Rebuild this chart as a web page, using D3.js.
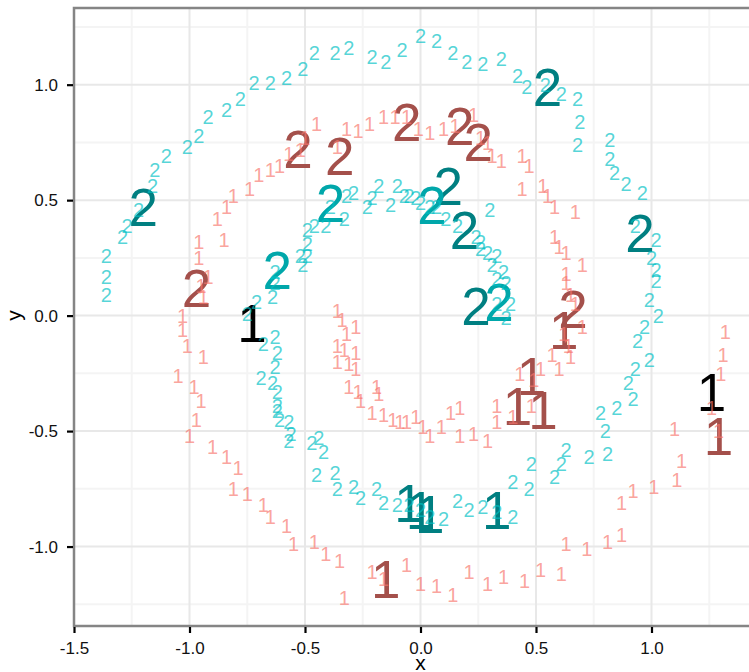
<!DOCTYPE html>
<html>
<head>
<meta charset="utf-8">
<script src="https://cdn.jsdelivr.net/npm/d3@7"></script>
<style>
  html, body { margin: 0; padding: 0; background: #ffffff; }
  svg { display: block; }
  text { font-family: "Liberation Sans", Arial, Helvetica, sans-serif; }
</style>
</head>
<body>
<svg id="chart" width="749" height="672"></svg>
<script>
// Points of the first spiral (class "1")
const spiralOne = [
  [-0.81,0.52],[-0.74,0.55],[-0.84,0.47],[-0.88,0.42],[-0.85,0.33],[-0.96,0.32],[-0.96,0.25],
  [-0.92,0.17],[-0.95,0.13],[-0.94,0.08],[-1.03,0.00],[-1.03,-0.06],[-1.01,-0.13],[-0.94,-0.18],
  [-1.05,-0.26],[-0.98,-0.31],[-0.95,-0.37],[-0.97,-0.45],[-1.00,-0.52],[-0.90,-0.57],[-0.84,-0.61],
  [-0.79,-0.66],[-0.81,-0.75],[-0.75,-0.77],[-0.68,-0.82],[-0.65,-0.87],[-0.58,-0.91],[-0.55,-0.99],
  [-0.46,-0.98],[-0.41,-1.03],[-0.35,-1.06],[-0.33,-1.22],[-0.21,-1.11],[-0.16,-1.14],[-0.06,-1.08],
  [0.00,-1.16],[0.07,-1.17],[0.14,-1.21],[0.21,-1.11],[0.29,-1.16],[0.36,-1.13],[0.45,-1.15],
  [0.52,-1.10],[0.61,-1.12],[0.63,-0.99],[0.72,-1.01],[0.81,-0.98],[0.87,-0.95],[0.87,-0.81],
  [0.92,-0.76],[1.01,-0.74],[1.11,-0.71],[1.13,-0.63],[1.10,-0.49],[1.29,-0.50],[1.26,-0.40],
  [1.30,-0.25],[1.31,-0.17],[1.32,-0.07],
  [-0.70,0.61],[-0.65,0.63],[-0.61,0.65],[-0.57,0.70],[-0.52,0.72],[-0.50,0.77],[-0.45,0.83],
  [-0.36,0.73],[-0.32,0.81],[-0.27,0.80],[-0.22,0.83],[-0.16,0.86],[-0.11,0.86],[-0.06,0.86],
  [-0.01,0.81],[0.04,0.79],[0.10,0.81],[0.15,0.82],[0.23,0.87],[0.26,0.77],[0.29,0.75],
  [0.31,0.69],[0.35,0.67],[0.44,0.69],[0.47,0.65],[0.44,0.55],[0.53,0.56],[0.55,0.52],
  [0.58,0.47],[0.67,0.45],[0.58,0.34],[0.60,0.30],[0.63,0.27],[0.70,0.22],[0.63,0.18],
  [0.63,0.14],[0.65,0.09],[0.67,0.05],[0.70,-0.05],[0.62,-0.08],[0.64,-0.13],[0.65,-0.18],
  [0.57,-0.17],[0.60,-0.23],[0.52,-0.23],[0.43,-0.25],[0.49,-0.28],[0.40,-0.44],[0.48,-0.39],
  [0.33,-0.39],[0.33,-0.46],[0.29,-0.54],[0.23,-0.51],[0.17,-0.52],[0.17,-0.40],[0.13,-0.42],
  [0.09,-0.48],[0.04,-0.52],[0.01,-0.48],[-0.02,-0.44],[-0.06,-0.46],[-0.09,-0.46],[-0.12,-0.45],
  [-0.16,-0.43],[-0.18,-0.34],[-0.21,-0.42],[-0.19,-0.31],[-0.26,-0.37],[-0.27,-0.33],[-0.31,-0.31],
  [-0.28,-0.23],[-0.31,-0.21],[-0.36,-0.20],[-0.28,-0.16],[-0.33,-0.15],[-0.36,-0.13],[-0.32,-0.08],
  [-0.28,-0.05],[-0.34,-0.02],[-0.36,0.02]
];

// Points of the second spiral (class "2")
const spiralTwo = [
  [-1.36,0.09],[-1.36,0.17],[-1.36,0.26],[-1.29,0.34],[-1.27,0.39],[-1.22,0.46],[-1.16,0.56],
  [-1.15,0.63],[-1.10,0.69],[-1.01,0.73],[-0.96,0.78],[-0.92,0.86],[-0.84,0.89],[-0.78,0.94],
  [-0.72,1.01],[-0.65,1.01],[-0.58,1.03],[-0.51,1.07],[-0.46,1.14],[-0.37,1.14],[-0.31,1.16],
  [-0.21,1.12],[-0.15,1.10],[-0.08,1.15],[0.00,1.21],[0.07,1.19],[0.14,1.14],[0.20,1.10],
  [0.27,1.09],[0.35,1.11],[0.42,1.04],[0.46,0.99],[0.54,1.00],[0.61,0.96],[0.68,0.94],
  [0.69,0.84],[0.68,0.74],[0.82,0.76],[0.82,0.68],[0.84,0.62],[0.89,0.57],[0.96,0.53],
  [0.93,0.39],[1.02,0.33],[1.00,0.25],[1.02,0.20],[1.02,0.15],[0.99,0.07],[1.03,0.00],
  [0.97,-0.05],[0.94,-0.11],[0.99,-0.19],[0.93,-0.23],[0.90,-0.29],[0.92,-0.36],[0.85,-0.40],
  [0.78,-0.42],[0.80,-0.50],[0.63,-0.58],[0.73,-0.61],[0.81,-0.60],[0.61,-0.64],[0.58,-0.70],
  [0.48,-0.64],[0.47,-0.75],[0.40,-0.72],[0.40,-0.87],[0.33,-0.85],[0.27,-0.83],[0.21,-0.84],
  [0.16,-0.80],[0.10,-0.88],[0.04,-0.87],[0.00,-0.84],[-0.05,-0.82],[-0.10,-0.82],[-0.16,-0.81],
  [-0.19,-0.75],[-0.26,-0.79],[-0.29,-0.74],[-0.36,-0.75],[-0.37,-0.68],[-0.45,-0.69],[-0.42,-0.59],
  [-0.47,-0.55],[-0.57,-0.54],[-0.44,-0.53],[-0.56,-0.51],[-0.57,-0.46],[-0.61,-0.45],[-0.62,-0.41],
  [-0.62,-0.39],[-0.62,-0.33],[-0.64,-0.29],[-0.69,-0.27],[-0.63,-0.22],[-0.62,-0.16],[-0.68,-0.12],
  [-0.63,-0.09],[-0.75,0.01],[-0.71,0.06],[-0.64,0.08],[-0.63,0.14],[-0.63,0.19],[-0.51,0.22],
  [-0.49,0.26],[-0.52,0.26],[-0.49,0.31],[-0.49,0.37],[-0.46,0.39],[-0.41,0.39],[-0.39,0.47],
  [-0.33,0.42],[-0.32,0.52],[-0.29,0.53],[-0.23,0.47],[-0.21,0.51],[-0.18,0.56],[-0.13,0.48],
  [-0.10,0.56],[-0.07,0.52],[-0.05,0.52],[-0.02,0.51],[0.00,0.49],[0.04,0.47],[0.07,0.47],
  [0.11,0.42],[0.16,0.39],[0.24,0.34],[0.26,0.32],[0.26,0.29],[0.29,0.27],[0.33,0.26],
  [0.31,0.22],[0.36,0.19],[0.33,0.16],[0.37,0.14],[0.30,0.46],[0.33,0.05],[0.39,0.05],[0.37,-0.01]
];

// Emphasised points: position, printed label and the group that sets their colour
const highlightX     = [-1.20, 0.55, 0.95, 0.12, 0.19, 0.24, -0.39, -0.62, 0.05, 0.34,
                        -0.05, 0.00, 0.04, 0.33,
                        -0.53, -0.35, -0.06, 0.17, 0.25, -0.97, 0.66,
                        0.62, 0.48, 0.42, 0.53, -0.15, 1.29,
                        -0.73, 1.26];
const highlightY     = [0.47, 0.99, 0.36, 0.56, 0.37, 0.04, 0.49, 0.20, 0.48, 0.06,
                        -0.81, -0.84, -0.86, -0.84,
                        0.72, 0.69, 0.84, 0.82, 0.75, 0.12, 0.03,
                        -0.06, -0.26, -0.39, -0.41, -1.14, -0.52,
                        -0.03, -0.33];
const highlightLabel = ["2","2","2","2","2","2","2","2","2","2",
                        "1","1","1","1",
                        "2","2","2","2","2","2","2",
                        "1","1","1","1","1","1",
                        "1","1"];
const highlightGroup = ["outer2","outer2","outer2","outer2","outer2","outer2","inner2","inner2","inner2","inner2",
                        "outer2","outer2","outer2","outer2",
                        "outer1","outer1","outer1","outer1","outer1","outer1","outer1",
                        "outer1","outer1","outer1","outer1","outer1","outer1",
                        "none","none"];

const xTicks = [-1.5, -1.0, -0.5, 0.0, 0.5, 1.0];
const yTicks = [-1.0, -0.5, 0.0, 0.5, 1.0];
const xMinor = [-1.25, -0.75, -0.25, 0.25, 0.75, 1.25];
const yMinor = [-1.25, -0.75, -0.25, 0.25, 0.75, 1.25];

const svg = d3.select("#chart");
const panel = { left: 74, top: 8, bottom: 626 };

const x = d3.scaleLinear().domain([-1.5, 1.45]).range([panel.left, panel.left + 2.95 * 231]);
const y = d3.scaleLinear().domain([-1.344, 1.332]).range([panel.bottom, panel.top]);
const right = x.range()[1];

const classColour = d3.scaleOrdinal().domain(["1", "2"]).range(["#F8766D", "#00BFC4"]);
const groupColour = d3.scaleOrdinal()
  .domain(["outer1", "outer2", "inner2", "none"])
  .range(["#A4504B", "#007F81", "#00A7AA", "#000000"]);

// grid
const grid = svg.append("g");
grid.selectAll("line.minor-x").data(xMinor).join("line")
  .attr("x1", d => x(d)).attr("x2", d => x(d))
  .attr("y1", panel.top).attr("y2", panel.bottom)
  .attr("stroke", "#f4f4f4").attr("stroke-width", 2);
grid.selectAll("line.minor-y").data(yMinor).join("line")
  .attr("y1", d => y(d)).attr("y2", d => y(d))
  .attr("x1", panel.left).attr("x2", right)
  .attr("stroke", "#f4f4f4").attr("stroke-width", 2);
grid.selectAll("line.major-x").data(xTicks).join("line")
  .attr("x1", d => x(d)).attr("x2", d => x(d))
  .attr("y1", panel.top).attr("y2", panel.bottom)
  .attr("stroke", "#e8e8e8").attr("stroke-width", 2);
grid.selectAll("line.major-y").data(yTicks).join("line")
  .attr("y1", d => y(d)).attr("y2", d => y(d))
  .attr("x1", panel.left).attr("x2", right)
  .attr("stroke", "#e8e8e8").attr("stroke-width", 2);

// emphasised labels underneath
const highlights = highlightX.map((v, i) => ({
  x: v, y: highlightY[i], label: highlightLabel[i], group: highlightGroup[i]
}));
svg.append("g").selectAll("text").data(highlights).join("text")
  .attr("x", d => x(d.x)).attr("y", d => y(d.y))
  .attr("dy", "0.36em")
  .attr("text-anchor", "middle")
  .attr("font-size", 53)
  .attr("fill", d => groupColour(d.group))
  .text(d => d.label);

// spiral labels
function drawSpiral(points, cls) {
  svg.append("g").selectAll("text").data(points).join("text")
    .attr("x", d => x(d[0])).attr("y", d => y(d[1]))
    .attr("dy", "0.36em")
    .attr("text-anchor", "middle")
    .attr("font-size", 20)
    .attr("fill", classColour(cls))
    .attr("fill-opacity", 0.68)
    .text(cls);
}
drawSpiral(spiralOne, "1");
drawSpiral(spiralTwo, "2");

// panel border (left, top, bottom visible)
svg.append("rect")
  .attr("x", panel.left).attr("y", panel.top)
  .attr("width", right - panel.left).attr("height", panel.bottom - panel.top)
  .attr("fill", "none").attr("stroke", "#858585").attr("stroke-width", 2.5);

// axes
const fmt = d => d.toFixed(1);
const xAxis = svg.append("g")
  .attr("transform", `translate(0,${panel.bottom + 1})`)
  .call(d3.axisBottom(x).tickValues(xTicks).tickFormat(fmt).tickSize(6).tickSizeOuter(0).tickPadding(9));
const yAxis = svg.append("g")
  .attr("transform", `translate(${panel.left - 1},0)`)
  .call(d3.axisLeft(y).tickValues(yTicks).tickFormat(fmt).tickSize(6).tickSizeOuter(0).tickPadding(9));
[xAxis, yAxis].forEach(g => {
  g.select(".domain").remove();
  g.selectAll(".tick line").attr("stroke", "#000").attr("stroke-width", 2.2);
  g.selectAll(".tick text")
    .attr("fill", "#111")
    .attr("font-size", 17)
    .attr("font-family", "\"Liberation Sans\", Arial, sans-serif");
});

// axis titles
svg.append("text")
  .attr("x", x(0)).attr("y", 670)
  .attr("text-anchor", "middle")
  .attr("font-size", 21).attr("fill", "#000")
  .text("x");
svg.append("text")
  .attr("transform", `translate(21,${y(0)}) rotate(-90)`)
  .attr("text-anchor", "middle")
  .attr("font-size", 21).attr("fill", "#000")
  .text("y");
</script>
</body>
</html>
